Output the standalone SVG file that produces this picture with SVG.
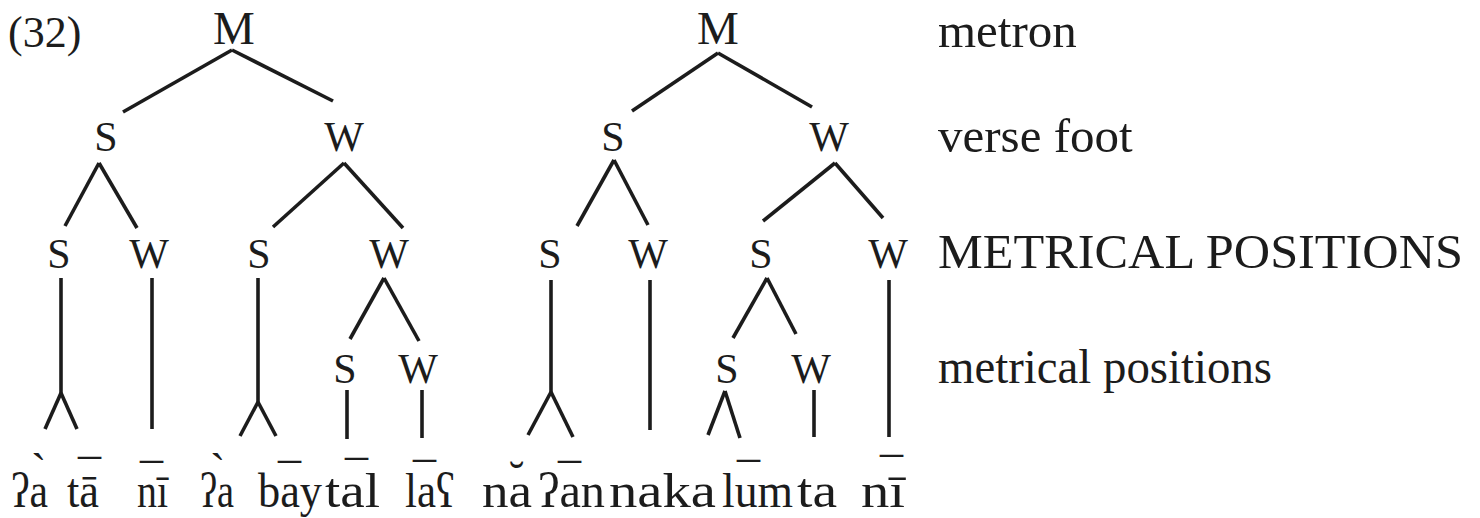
<svg xmlns="http://www.w3.org/2000/svg" width="1480" height="518" viewBox="0 0 1480 518">
<style>
  .bg { fill: #ffffff; }
  .t { font-family: "Liberation Serif", "Times New Roman", serif; fill: #1c1c1c; }
  .m { font-size: 47px; text-anchor: middle; }
  .n { font-size: 42px; text-anchor: middle; }
  .lab { font-size: 49px; }
  .syl { font-size: 48px; }
  .mk { font-size: 46px; }
  .c line { stroke: #1c1c1c; stroke-width: 3.6; stroke-linecap: butt; fill: none; }
</style>
<rect class="bg" x="0" y="0" width="1480" height="518"/>

<text class="t" x="8" y="47" font-size="44">(32)</text>

<g id="labels">
  <text class="t lab" x="938" y="47">metron</text>
  <text class="t lab" x="938" y="152">verse foot</text>
  <text class="t lab" x="938" y="268" textLength="525" lengthAdjust="spacingAndGlyphs">METRICAL POSITIONS</text>
  <text class="t lab" x="938" y="383" textLength="334" lengthAdjust="spacingAndGlyphs">metrical positions</text>
</g>

<g id="connectors" class="c">
  <!-- left tree -->
  <line x1="232" y1="50" x2="123" y2="112"/>
  <line x1="232" y1="50" x2="333" y2="101"/>
  <line x1="99" y1="163" x2="65" y2="226"/>
  <line x1="99" y1="163" x2="137" y2="228"/>
  <line x1="344" y1="163" x2="273" y2="227"/>
  <line x1="344" y1="163" x2="403" y2="228"/>
  <line x1="61" y1="278" x2="61" y2="394"/>
  <line x1="61" y1="393" x2="45" y2="429"/>
  <line x1="61" y1="393" x2="77" y2="429"/>
  <line x1="152" y1="278" x2="152" y2="429"/>
  <line x1="258" y1="278" x2="258" y2="403"/>
  <line x1="258" y1="402" x2="240" y2="436"/>
  <line x1="258" y1="402" x2="276" y2="436"/>
  <line x1="384" y1="278" x2="350" y2="339"/>
  <line x1="384" y1="278" x2="419" y2="341"/>
  <line x1="347" y1="390" x2="347" y2="439"/>
  <line x1="422" y1="390" x2="422" y2="438"/>
  <!-- right tree -->
  <line x1="718" y1="53" x2="632" y2="111"/>
  <line x1="718" y1="53" x2="812" y2="107"/>
  <line x1="614" y1="160" x2="577" y2="226"/>
  <line x1="614" y1="160" x2="648" y2="225"/>
  <line x1="835" y1="163" x2="763" y2="221"/>
  <line x1="835" y1="163" x2="883" y2="218"/>
  <line x1="551" y1="280" x2="551" y2="393"/>
  <line x1="551" y1="392" x2="528" y2="435"/>
  <line x1="551" y1="392" x2="573" y2="437"/>
  <line x1="650" y1="280" x2="650" y2="430"/>
  <line x1="767" y1="278" x2="733" y2="338"/>
  <line x1="767" y1="278" x2="796" y2="334"/>
  <line x1="725" y1="391" x2="708" y2="435"/>
  <line x1="725" y1="391" x2="740" y2="438"/>
  <line x1="814" y1="390" x2="814" y2="437"/>
  <line x1="889" y1="280" x2="889" y2="437"/>
</g>

<g id="tree1">
  <g id="n1-M"><text class="t m" x="234" y="44">M</text></g>
  <g id="n1-S"><text class="t n" x="106" y="151">S</text></g>
  <g id="n1-W"><text class="t n" x="344" y="151">W</text></g>
  <g id="n1-SS"><text class="t n" x="59" y="268">S</text></g>
  <g id="n1-SW"><text class="t n" x="149" y="268">W</text></g>
  <g id="n1-WS"><text class="t n" x="259" y="268">S</text></g>
  <g id="n1-WW"><text class="t n" x="389" y="268">W</text></g>
  <g id="n1-WWS"><text class="t n" x="345" y="383">S</text></g>
  <g id="n1-WWW"><text class="t n" x="418" y="383">W</text></g>
</g>

<g id="tree2">
  <g id="n2-M"><text class="t m" x="718" y="44">M</text></g>
  <g id="n2-S"><text class="t n" x="613" y="151">S</text></g>
  <g id="n2-W"><text class="t n" x="829" y="151">W</text></g>
  <g id="n2-SS"><text class="t n" x="550" y="268">S</text></g>
  <g id="n2-SW"><text class="t n" x="648" y="268">W</text></g>
  <g id="n2-WS"><text class="t n" x="761" y="268">S</text></g>
  <g id="n2-WW"><text class="t n" x="888" y="268">W</text></g>
  <g id="n2-WSS"><text class="t n" x="727" y="383">S</text></g>
  <g id="n2-WSW"><text class="t n" x="811" y="383">W</text></g>
</g>

<g id="syllables">
  <text class="t syl"><tspan x="11" y="507" textLength="37" lengthAdjust="spacingAndGlyphs">ʔa</tspan><tspan class="mk" x="31" y="486">`</tspan></text>
  <text class="t syl"><tspan x="67" y="507" textLength="32" lengthAdjust="spacingAndGlyphs">tā</tspan><tspan class="mk" x="78" y="492">¯</tspan></text>
  <text class="t syl"><tspan x="137" y="507" textLength="31" lengthAdjust="spacingAndGlyphs">nī</tspan><tspan class="mk" x="140" y="496">¯</tspan></text>
  <text class="t syl"><tspan x="200" y="507" textLength="34" lengthAdjust="spacingAndGlyphs">ʔa</tspan><tspan class="mk" x="210" y="486">`</tspan></text>
  <text class="t syl"><tspan x="258" y="507" textLength="64" lengthAdjust="spacingAndGlyphs">bay</tspan><tspan class="mk" x="278" y="496">¯</tspan></text>
  <text class="t syl"><tspan x="325" y="507" textLength="55" lengthAdjust="spacingAndGlyphs">tal</tspan><tspan class="mk" x="345" y="493">¯</tspan></text>
  <text class="t syl"><tspan x="405" y="507" textLength="50" lengthAdjust="spacingAndGlyphs">laʕ</tspan><tspan class="mk" x="413" y="495">¯</tspan></text>
  <text class="t syl"><tspan x="482" y="507" textLength="50" lengthAdjust="spacingAndGlyphs">na</tspan><tspan class="mk" x="509" y="494">˘</tspan></text>
  <text class="t syl"><tspan x="538" y="507" textLength="67" lengthAdjust="spacingAndGlyphs">ʔan</tspan><tspan class="mk" x="558" y="496">¯</tspan></text>
  <text class="t syl"><tspan x="609" y="507" textLength="107" lengthAdjust="spacingAndGlyphs">naka</tspan></text>
  <text class="t syl"><tspan x="722" y="507" textLength="71" lengthAdjust="spacingAndGlyphs">lum</tspan><tspan class="mk" x="737" y="495">¯</tspan></text>
  <text class="t syl"><tspan x="797" y="507" textLength="40" lengthAdjust="spacingAndGlyphs">ta</tspan></text>
  <text class="t syl"><tspan x="861" y="507" textLength="44" lengthAdjust="spacingAndGlyphs">nī</tspan><tspan class="mk" x="880" y="490">¯</tspan></text>
</g>
</svg>
